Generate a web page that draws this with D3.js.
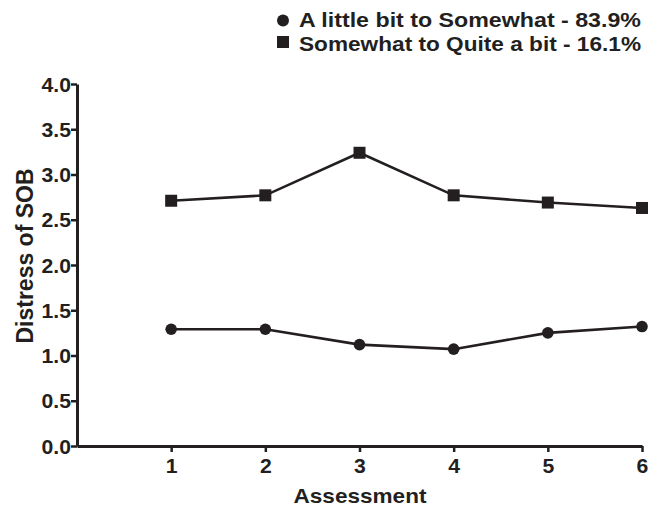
<!DOCTYPE html>
<html><head><meta charset="utf-8">
<script src="https://cdn.jsdelivr.net/npm/d3@7"></script>
<style>body{margin:0;background:#fff}svg{display:block}</style>
</head><body>
<svg id="c" width="658" height="506"></svg>
<script>
const assessments = [1, 2, 3, 4, 5, 6];
const littleToSomewhat = [1.29, 1.29, 1.12, 1.07, 1.25, 1.32];
const somewhatToQuite = [2.71, 2.77, 3.24, 2.77, 2.69, 2.63];
const yTicks = [0, 0.5, 1, 1.5, 2, 2.5, 3, 3.5, 4];
const seriesNames = ["A little bit to Somewhat - 83.9%", "Somewhat to Quite a bit - 16.1%"];

const col = "#231f20";
const FONT = "'Liberation Sans', Arial, sans-serif";
const svg = d3.select("#c");
const x = d3.scaleLinear().domain([0, 6]).range([77, 642]);
const y = d3.scaleLinear().domain([0, 4]).range([446, 84]);

function styleText(sel, size, k) {
  sel.style("font-family", FONT).style("font-weight", "700").style("font-size", size + "px").attr("fill", col);
  sel.each(function () {
    const w = this.getComputedTextLength();
    d3.select(this).attr("textLength", w * k).attr("lengthAdjust", "spacingAndGlyphs");
  });
}

const yAxis = svg.append("g").attr("transform", "translate(77,0)")
  .call(d3.axisLeft(y).tickValues(yTicks).tickFormat(d3.format(".1f")).tickSize(6).tickSizeOuter(0));
const xAxis = svg.append("g").attr("transform", "translate(0,446)")
  .call(d3.axisBottom(x).tickValues(assessments).tickFormat(d3.format("d")).tickSize(6).tickSizeOuter(0));
[yAxis, xAxis].forEach(g => {
  g.select(".domain").attr("stroke", col).attr("stroke-width", 3);
  g.selectAll(".tick line").attr("stroke", col).attr("stroke-width", 2.5);
});
yAxis.selectAll(".tick text").attr("x", -6).attr("dy", "0.36em");
xAxis.selectAll(".tick text").attr("y", 27).attr("dy", 0);
styleText(yAxis.selectAll(".tick text"), 20, 1.06);
styleText(xAxis.selectAll(".tick text"), 20, 1.06);

const line = d3.line().x((d, i) => x(assessments[i])).y(d => y(d));
svg.append("path").datum(somewhatToQuite).attr("d", line).attr("fill", "none").attr("stroke", col).attr("stroke-width", 2.6);
svg.append("path").datum(littleToSomewhat).attr("d", line).attr("fill", "none").attr("stroke", col).attr("stroke-width", 2.6);

svg.selectAll(".sq").data(somewhatToQuite).enter().append("rect")
  .attr("x", (d, i) => x(assessments[i]) - 6).attr("y", d => y(d) - 6)
  .attr("width", 12).attr("height", 12).attr("fill", col);
svg.selectAll(".ci").data(littleToSomewhat).enter().append("circle")
  .attr("cx", (d, i) => x(assessments[i])).attr("cy", d => y(d)).attr("r", 5.8).attr("fill", col);

const xt = svg.append("text").attr("x", 360).attr("y", 503).attr("text-anchor", "middle").text("Assessment");
styleText(xt, 20.5, 1.1);
const yt = svg.append("text").attr("transform", "translate(33,256) rotate(-90)").attr("text-anchor", "middle").text("Distress of SOB");
styleText(yt, 23, 1.0);

// legend
const lg = svg.append("g");
lg.append("circle").attr("cx", 283).attr("cy", 20.5).attr("r", 6).attr("fill", col);
lg.append("rect").attr("x", 277).attr("y", 36).attr("width", 12).attr("height", 12).attr("fill", col);
const l1 = lg.append("text").attr("x", 299).attr("y", 27).text(seriesNames[0]);
const l2 = lg.append("text").attr("x", 299).attr("y", 50.5).text(seriesNames[1]);
[l1, l2].forEach(t => {
  t.style("font-family", FONT).style("font-weight", "700").style("font-size", "19.5px").attr("fill", col)
   .attr("textLength", 342).attr("lengthAdjust", "spacingAndGlyphs");
});
</script>
</body></html>
